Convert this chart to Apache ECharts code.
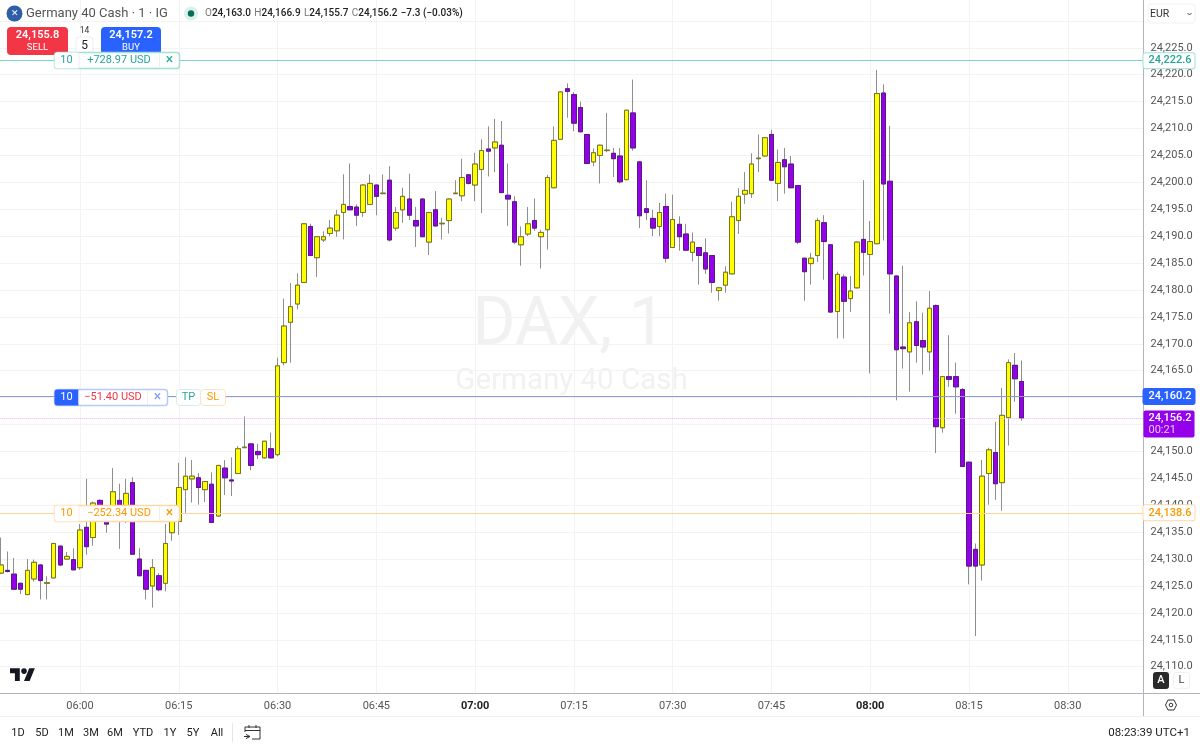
<!DOCTYPE html>
<html>
<head>
<meta charset="utf-8">
<title>Germany 40 Cash</title>
<style>
html, body { margin: 0; padding: 0; background: #fff; }
#chart { width: 1200px; height: 749px; }
</style>
<script src="https://cdn.jsdelivr.net/npm/echarts@6/dist/echarts.min.js"></script>
</head>
<body>
<div id="chart"></div>
<script>
var opens = [
	24127.4, 24127.9, 24127.2, 24125.5, 24123.4, 24126.3, 24128.9, 24125.5, 24126.5, 24132.4,
	24130.0, 24129.9, 24128.4, 24135.9, 24134.0, 24140.9, 24139.4, 24138.5, 24140.9, 24137.0,
	24144.2, 24130.0, 24127.9, 24125.0, 24126.9, 24125.5, 24134.9, 24137.0, 24142.9, 24144.9,
	24145.1, 24142.9, 24143.9, 24138.0, 24146.9, 24144.7, 24145.9, 24150.7, 24151.4, 24150.0,
	24148.8, 24150.5, 24149.4, 24166.5, 24174.0, 24177.4, 24181.4, 24191.8, 24186.0, 24189.3,
	24190.5, 24191.0, 24194.4, 24195.5, 24195.4, 24194.4, 24195.9, 24199.5, 24197.9, 24200.4,
	24191.5, 24194.9, 24196.9, 24192.9, 24196.9, 24188.9, 24194.9, 24192.3, 24192.9, 24197.9,
	24197.5, 24201.4, 24199.5, 24202.4, 24206.2, 24206.4, 24206.9, 24197.6, 24196.4, 24188.4,
	24190.4, 24192.9, 24189.9, 24191.2, 24199.0, 24208.0, 24217.4, 24216.3, 24213.9, 24208.9,
	24203.8, 24205.0, 24205.9, 24205.4, 24204.9, 24200.5, 24212.9, 24203.8, 24195.1, 24193.3,
	24191.8, 24195.5, 24187.9, 24192.2, 24190.4, 24187.0, 24187.9, 24186.9, 24186.4, 24179.9,
	24180.9, 24183.0, 24192.9, 24197.8, 24197.9, 24204.4, 24204.9, 24208.9, 24199.8, 24204.2,
	24203.4, 24199.4, 24185.9, 24184.9, 24186.4, 24192.5, 24188.4, 24176.0, 24182.4, 24178.4,
	24180.4, 24189.4, 24186.6, 24188.6, 24216.6, 24200.2, 24182.6, 24169.4, 24168.5, 24174.1,
	24170.6, 24168.5, 24177.1, 24154.4, 24163.9, 24163.9, 24161.5, 24148.0, 24131.8, 24128.9,
	24145.9, 24149.8, 24144.2, 24156.3, 24166.0, 24163.0
];
var closes = [
	24128.9, 24127.7, 24124.4, 24124.4, 24127.9, 24129.4, 24126.0, 24125.6, 24132.9, 24128.9,
	24130.5, 24128.0, 24135.4, 24132.3, 24140.4, 24138.8, 24136.5, 24142.5, 24137.3, 24142.2,
	24130.9, 24126.9, 24124.4, 24128.4, 24124.3, 24132.9, 24137.6, 24143.3, 24145.4, 24145.4,
	24143.3, 24144.4, 24136.8, 24147.4, 24145.1, 24144.5, 24150.5, 24150.8, 24147.4, 24149.4,
	24151.9, 24148.8, 24165.9, 24173.3, 24176.9, 24180.9, 24192.3, 24186.4, 24189.9, 24189.9,
	24191.5, 24193.9, 24195.9, 24194.9, 24193.9, 24199.5, 24199.8, 24197.4, 24198.0, 24189.3,
	24194.4, 24197.4, 24193.9, 24191.9, 24189.9, 24194.4, 24191.9, 24192.4, 24196.9, 24198.0,
	24200.9, 24199.8, 24203.4, 24205.9, 24205.8, 24207.5, 24198.1, 24196.9, 24188.9, 24189.9,
	24192.3, 24191.5, 24190.7, 24200.9, 24207.8, 24216.8, 24216.9, 24211.0, 24209.4, 24203.5,
	24205.5, 24206.9, 24206.0, 24204.4, 24200.1, 24213.4, 24206.4, 24193.8, 24194.4, 24191.5,
	24194.4, 24185.9, 24193.1, 24189.9, 24187.4, 24188.9, 24186.4, 24183.9, 24181.4, 24180.4,
	24183.3, 24193.6, 24197.4, 24198.5, 24203.4, 24204.5, 24208.3, 24200.4, 24203.7, 24202.9,
	24199.0, 24188.9, 24183.4, 24185.9, 24192.9, 24189.0, 24175.9, 24182.9, 24177.9, 24179.8,
	24188.9, 24187.0, 24189.0, 24216.5, 24199.7, 24183.0, 24168.9, 24169.1, 24173.9, 24169.7,
	24169.4, 24176.6, 24154.6, 24163.9, 24163.4, 24162.0, 24147.2, 24128.7, 24128.7, 24145.4,
	24150.3, 24144.0, 24156.7, 24166.5, 24163.5, 24156.2
];
var highs = [
	24134.0, 24131.4, 24130.2, 24125.6, 24130.0, 24129.9, 24129.1, 24126.8, 24133.0, 24132.5,
	24131.3, 24132.0, 24136.5, 24144.9, 24140.7, 24141.1, 24139.6, 24146.9, 24144.0, 24144.9,
	24145.2, 24132.0, 24128.0, 24130.0, 24127.4, 24136.5, 24137.9, 24147.9, 24148.9, 24148.4,
	24146.0, 24144.5, 24146.1, 24147.5, 24148.4, 24148.9, 24151.0, 24156.5, 24151.5, 24151.4,
	24151.9, 24153.5, 24167.4, 24178.4, 24181.3, 24183.1, 24192.4, 24192.3, 24190.0, 24190.9,
	24193.0, 24194.9, 24201.5, 24203.5, 24195.9, 24199.6, 24201.5, 24199.6, 24201.5, 24203.0,
	24195.4, 24199.0, 24201.6, 24195.4, 24197.0, 24194.5, 24198.4, 24193.4, 24197.0, 24200.4,
	24204.4, 24201.5, 24205.5, 24208.0, 24210.4, 24211.8, 24211.4, 24203.5, 24197.4, 24191.8,
	24195.4, 24197.0, 24191.2, 24201.4, 24210.4, 24216.9, 24218.4, 24216.8, 24215.0, 24209.0,
	24206.3, 24207.0, 24212.9, 24206.4, 24206.4, 24213.5, 24219.1, 24203.9, 24200.4, 24194.9,
	24196.2, 24197.9, 24197.7, 24193.7, 24192.3, 24190.7, 24188.0, 24189.6, 24186.5, 24180.6,
	24184.4, 24196.4, 24198.9, 24201.9, 24205.4, 24208.9, 24208.4, 24209.8, 24206.1, 24206.4,
	24204.9, 24199.5, 24186.0, 24186.9, 24193.4, 24193.9, 24188.5, 24183.4, 24182.9, 24182.6,
	24189.0, 24200.4, 24192.8, 24220.9, 24218.2, 24210.5, 24182.7, 24184.5, 24175.9, 24177.9,
	24175.8, 24179.8, 24177.3, 24164.0, 24171.6, 24166.5, 24161.8, 24148.1, 24132.9, 24148.4,
	24150.7, 24155.5, 24161.8, 24167.1, 24168.3, 24166.9
];
var lows = [
	24127.2, 24127.5, 24124.3, 24123.5, 24123.3, 24125.8, 24122.5, 24122.5, 24126.4, 24128.7,
	24129.9, 24127.9, 24128.0, 24130.8, 24132.5, 24138.6, 24134.9, 24138.2, 24131.9, 24136.7,
	24130.8, 24126.8, 24122.5, 24121.0, 24124.0, 24124.0, 24133.4, 24134.5, 24138.6, 24140.5,
	24140.1, 24140.6, 24136.7, 24137.9, 24141.9, 24141.7, 24145.8, 24150.7, 24146.5, 24148.6,
	24148.7, 24148.7, 24149.1, 24166.0, 24166.5, 24176.4, 24181.3, 24186.4, 24182.4, 24188.9,
	24190.0, 24189.9, 24189.4, 24194.9, 24191.9, 24193.6, 24195.8, 24193.9, 24197.8, 24189.0,
	24191.0, 24192.5, 24193.0, 24188.0, 24189.8, 24186.5, 24191.8, 24189.4, 24190.5, 24197.8,
	24196.5, 24199.6, 24196.5, 24194.3, 24201.1, 24201.9, 24198.0, 24191.9, 24188.5, 24184.5,
	24190.0, 24191.0, 24184.0, 24187.5, 24198.9, 24207.9, 24212.0, 24209.5, 24209.3, 24203.4,
	24203.0, 24199.8, 24205.6, 24201.0, 24199.8, 24200.4, 24205.9, 24191.5, 24193.0, 24190.0,
	24190.0, 24185.1, 24187.8, 24187.3, 24187.3, 24185.3, 24181.0, 24183.0, 24179.5, 24178.0,
	24179.5, 24182.9, 24190.4, 24196.0, 24197.1, 24201.9, 24204.8, 24200.3, 24196.5, 24197.9,
	24198.9, 24188.5, 24178.0, 24181.0, 24185.2, 24181.9, 24175.8, 24171.0, 24171.0, 24175.9,
	24180.3, 24182.7, 24164.5, 24188.5, 24189.2, 24175.6, 24159.5, 24165.4, 24161.1, 24166.5,
	24164.3, 24165.0, 24149.7, 24153.5, 24162.0, 24157.0, 24147.1, 24125.3, 24115.7, 24126.0,
	24140.1, 24141.0, 24139.0, 24151.1, 24159.2, 24155.7
];

// one slot per minute, 05:48 up to the end of the empty space on the right
var startMinute = 5 * 60 + 48;
var slotCount = 174;
var boldHours = ['07:00', '08:00'];
var rangeButtons = ['1D', '5D', '1M', '3M', '6M', 'YTD', '1Y', '5Y', 'All'];
var rangeX = [18, 42, 66, 91, 115, 143, 170, 193, 217];

var takeProfit = 24222.6, position = 24160.2, lastPrice = 24156.2, stopLoss = 24138.6;

var FONT = 'Roboto, sans-serif';
var categories = [];
for (var i = 0; i < slotCount; i++) {
	var m = startMinute + i;
	categories.push(('0' + Math.floor(m / 60)).slice(-2) + ':' + ('0' + (m % 60)).slice(-2));
}

var fullData = [], bodyData = [];
for (var k = 0; k < opens.length; k++) {
	fullData.push([opens[k], closes[k], lows[k], highs[k]]);
	bodyData.push([opens[k], closes[k], Math.min(opens[k], closes[k]), Math.max(opens[k], closes[k])]);
}

function fmtPrice(v) {
	var s = v.toFixed(1);
	return s.slice(0, 2) + ',' + s.slice(2);
}

function quarterTick(index) {
	return (startMinute + index) % 15 === 0;
}

function priceLine(value, color, type, label) {
	return {
		yAxis: value,
		lineStyle: { color: color, width: 1, type: type },
		label: label
	};
}

function priceTag(text, color, bg, border) {
	return {
		show: true,
		position: 'end',
		distance: 0,
		formatter: text,
		fontFamily: FONT,
		fontSize: 11,
		fontWeight: 500,
		color: color,
		backgroundColor: bg,
		borderColor: border,
		borderWidth: 1,
		borderRadius: 2,
		padding: [2, 3, 2, 5]
	};
}

// trade chip on the left: quantity | amount | close cross
function chip(x, y, w, color, boxColor, qtyFill, qtyColor, amount, amountColor) {
	return {
		type: 'group',
		x: x,
		y: y,
		z: 50,
		children: [
			{ type: 'rect', shape: { x: 0, y: 0, width: w, height: 16, r: 3 }, style: { fill: '#fff', stroke: boxColor, lineWidth: 1.5 }, z: 50 },
			{ type: 'rect', shape: { x: 0, y: 0, width: 24, height: 16, r: [3, 0, 0, 3] }, style: { fill: qtyFill }, z: 50 },
			{ type: 'line', shape: { x1: 24.5, y1: 1, x2: 24.5, y2: 15 }, style: { stroke: '#eeeeee', lineWidth: 1 }, z: 50 },
			{ type: 'line', shape: { x1: w - 20, y1: 1, x2: w - 20, y2: 15 }, style: { stroke: '#eeeeee', lineWidth: 1 }, z: 50 },
			{ type: 'text', x: 12, y: 8, style: { text: '10', fill: qtyColor, font: '11px ' + FONT, align: 'center', verticalAlign: 'middle' }, z: 51 },
			{ type: 'text', x: (w - 24 - 20) / 2 + 24, y: 8, style: { text: amount, fill: amountColor, font: '11px ' + FONT, align: 'center', verticalAlign: 'middle' }, z: 51 },
			{ type: 'text', x: w - 10, y: 8, style: { text: '\u00d7', fill: color, font: '14px ' + FONT, align: 'center', verticalAlign: 'middle' }, z: 51 }
		]
	};
}

function smallBox(x, y, w, text, color, boxColor) {
	return {
		type: 'group',
		x: x,
		y: y,
		z: 50,
		children: [
			{ type: 'rect', shape: { x: 0, y: 0, width: w, height: 16, r: 3 }, style: { fill: '#fff', stroke: boxColor, lineWidth: 1 }, z: 50 },
			{ type: 'text', x: w / 2, y: 8, style: { text: text, fill: color, font: '11px ' + FONT, align: 'center', verticalAlign: 'middle' }, z: 51 }
		]
	};
}

function tradeButton(x, w, fill, price, side) {
	return {
		type: 'group',
		x: x,
		y: 27,
		z: 50,
		children: [
			{ type: 'rect', shape: { x: 0, y: 0, width: w, height: 28, r: 4 }, style: { fill: fill }, z: 50 },
			{ type: 'text', x: w / 2, y: 8.5, style: { text: price, fill: '#fff', font: '600 11px ' + FONT, align: 'center', verticalAlign: 'middle' }, z: 51 },
			{ type: 'text', x: w / 2, y: 20.5, style: { text: side, fill: '#fff', font: '9.5px ' + FONT, align: 'center', verticalAlign: 'middle' }, z: 51 }
		]
	};
}

function uiText(x, y, text, fill, size, align, weight) {
	return {
		type: 'text',
		x: x,
		y: y,
		z: 50,
		style: { text: text, fill: fill, font: (weight || 400) + ' ' + size + 'px ' + FONT, align: align || 'left', verticalAlign: 'middle' }
	};
}

function uiLine(x1, y1, x2, y2, color) {
	return { type: 'line', z: 40, shape: { x1: x1, y1: y1, x2: x2, y2: y2 }, style: { stroke: color, lineWidth: 1 } };
}

var graphics = [
	// watermark
	{ type: 'text', x: 569, y: 327, z: -1, style: { text: 'DAX, 1', fill: '#f1f1f1', font: '66px ' + FONT, align: 'center', verticalAlign: 'middle' } },
	{ type: 'text', x: 571.5, y: 382, z: -1, style: { text: 'Germany 40 Cash', fill: '#f1f1f1', font: '29.5px ' + FONT, align: 'center', verticalAlign: 'middle' } },

	// header
	{ type: 'circle', z: 50, shape: { cx: 14.5, cy: 13.5, r: 8 }, style: { fill: '#2e5ea6' } },
	uiText(14.5, 13.5, '\u2715', '#fff', 9, 'center'),
	uiText(26, 13.5, 'Germany 40 Cash \u00b7 1 \u00b7 IG', '#555', 13),
	{ type: 'circle', z: 50, shape: { cx: 191, cy: 13.5, r: 7 }, style: { fill: '#dcf0ec' } },
	{ type: 'circle', z: 50, shape: { cx: 191, cy: 13.5, r: 3.2 }, style: { fill: '#066b57' } },
	{
		type: 'text',
		x: 205,
		y: 13.5,
		z: 50,
		style: {
			rich: {
				g: { fill: '#777', font: '10px ' + FONT },
				v: { fill: '#222', font: '500 10px ' + FONT }
			},
			text: '{g|O}{v|24,163.0} {g|H}{v|24,166.9} {g|L}{v|24,155.7} {g|C}{v|24,156.2} {v|\u22127.3 (\u22120.03%)}',
			verticalAlign: 'middle'
		}
	},

	// sell / buy
	tradeButton(7, 61, '#f23645', '24,155.8', 'SELL'),
	tradeButton(101, 60, '#2962ff', '24,157.2', 'BUY'),
	uiText(84.5, 30.5, '14', '#333', 8.5, 'center'),
	{ type: 'rect', z: 50, shape: { x: 76, y: 37, width: 17, height: 18, r: 3 }, style: { fill: '#fff', stroke: '#eeeeee' } },
	uiText(84.5, 46, '5', '#222', 12, 'center'),

	// trade chips
	chip(54.5, 52.5, 125, '#26a69a', '#a5ded3', '#fff', '#26a69a', '+728.97 USD', '#26a69a'),
	chip(54.5, 389.5, 113, '#7f9cf5', '#b9c9f7', '#2962ff', '#fff', '\u221251.40 USD', '#f23645'),
	smallBox(176.5, 389.5, 24, 'TP', '#26a69a', '#d3efe9'),
	smallBox(200.5, 389.5, 25, 'SL', '#ff9800', '#fde3c0'),
	chip(54.5, 505.5, 125, '#ff9800', '#fdd7a5', '#fff', '#ff9800', '\u2212252.34 USD', '#ff9800'),

	// price scale extras
	{ type: 'rect', z: 50, shape: { x: 1148, y: 4, width: 47, height: 19, r: 3 }, style: { fill: '#fff', stroke: '#f0f0f0' } },
	uiText(1150, 14, 'EUR', '#333', 10.5),
	{ type: 'polyline', z: 51, shape: { points: [[1187.5, 13], [1189.5, 15], [1191.5, 13]] }, style: { stroke: '#444', lineWidth: 1, fill: null } },
	{ type: 'rect', z: 50, shape: { x: 1153, y: 672, width: 16, height: 17, r: 3 }, style: { fill: '#2a2a2a' } },
	uiText(1161, 680.5, 'A', '#fff', 11, 'center', 500),
	{ type: 'rect', z: 50, shape: { x: 1173.5, y: 672.5, width: 16, height: 16, r: 3 }, style: { fill: '#fff', stroke: '#f0f0f0' } },
	uiText(1181.5, 680.5, 'L', '#444', 11, 'center'),
	{ type: 'polygon', z: 50, shape: { points: [[1165.5, 705], [1168, 700], [1174, 700], [1176.5, 705], [1174, 710], [1168, 710]] }, style: { fill: null, stroke: '#333', lineWidth: 1 } },
	{ type: 'circle', z: 50, shape: { cx: 1171, cy: 705, r: 1.8 }, style: { fill: null, stroke: '#333', lineWidth: 1 } },

	// frame lines
	uiLine(1143.5, 693, 1143.5, 716, '#b2b5be'),
	uiLine(1143.5, 693.5, 1200, 693.5, '#b2b5be'),
	uiLine(0, 716.5, 1200, 716.5, '#f0f0f0'),
	uiLine(232.5, 723, 232.5, 742, '#e6e6e6'),

	// logo
	{
		type: 'group',
		x: 10,
		y: 665.5,
		scaleX: 0.7,
		scaleY: 0.7,
		z: 50,
		children: [
			{ type: 'polygon', z: 50, shape: { points: [[0, 4], [14, 4], [14, 22], [7, 22], [7, 11], [0, 11]] }, style: { fill: '#131722' } },
			{ type: 'circle', z: 50, shape: { cx: 20, cy: 8, r: 4 }, style: { fill: '#131722' } },
			{ type: 'polygon', z: 50, shape: { points: [[27.5, 4], [35.5, 4], [28, 22], [20, 22]] }, style: { fill: '#131722' } }
		]
	},

	// calendar icon
	{ type: 'polyline', z: 50, shape: { points: [[245, 732], [245, 727], [260, 727], [260, 739], [252, 739]] }, style: { stroke: '#333', lineWidth: 1, fill: null } },
	uiLine(245, 730.5, 260, 730.5, '#333'),
	uiLine(249, 725, 249, 728, '#333'),
	uiLine(256, 725, 256, 728, '#333'),
	{ type: 'polyline', z: 50, shape: { points: [[246, 734.5], [250, 736.5], [246, 738.5]] }, style: { stroke: '#333', lineWidth: 1, fill: null } },
	uiLine(244, 736.5, 250, 736.5, '#333'),

	uiText(1190, 733, '08:23:39 UTC+1', '#222', 11.5, 'right')
];
for (var b = 0; b < rangeButtons.length; b++) {
	graphics.push(uiText(rangeX[b], 733, rangeButtons[b], '#222', 11, 'center'));
}

var chart = echarts.init(document.getElementById('chart'));
chart.setOption({
	animation: false,
	backgroundColor: '#fff',
	grid: { left: -2.3, top: -6, width: 1145.8, height: 699.6, containLabel: false, outerBoundsMode: 'none' },
	xAxis: {
		type: 'category',
		data: categories,
		axisLine: { show: true, lineStyle: { color: '#b2b5be', width: 1 } },
		axisTick: { show: false },
		splitLine: {
			show: true,
			alignWithLabel: true,
			interval: function (index) { return quarterTick(index); },
			lineStyle: { color: '#f3f3f3', width: 1 }
		},
		axisLabel: {
			interval: function (index) { return quarterTick(index); },
			margin: 7,
			fontFamily: FONT,
			fontSize: 11,
			color: '#555',
			formatter: function (value) {
				return boldHours.indexOf(value) >= 0 ? '{b|' + value + '}' : value;
			},
			rich: { b: { fontFamily: FONT, fontSize: 11, fontWeight: 700, color: '#222' } }
		}
	},
	yAxis: {
		type: 'value',
		position: 'right',
		min: 24105,
		max: 24235,
		interval: 5,
		scale: true,
		axisLine: { show: true, lineStyle: { color: '#b2b5be', width: 1 } },
		axisTick: { show: false },
		splitLine: { show: true, lineStyle: { color: '#f3f3f3', width: 1 } },
		axisLabel: {
			margin: 7,
			fontFamily: FONT,
			fontSize: 11,
			color: '#555',
			formatter: function (value) {
				if (value > 24225 || value < 24110) {
					return '';
				}
				return fmtPrice(value);
			}
		}
	},
	series: [{
		// grey wicks underneath
		type: 'candlestick',
		name: 'wicks',
		data: fullData,
		barWidth: 5,
		z: 3,
		itemStyle: {
			color: '#ffff00',
			color0: '#9400ea',
			borderColor: '#8e8e8e',
			borderColor0: '#8e8e8e',
			borderColorDoji: '#8e8e8e',
			borderWidth: 1
		}
	}, {
		// outlined bodies on top
		type: 'candlestick',
		name: 'Germany 40 Cash',
		data: bodyData,
		barWidth: 5,
		z: 4,
		itemStyle: {
			color: '#ffff00',
			color0: '#9400ea',
			borderColor: '#77751f',
			borderColor0: '#561a80',
			borderColorDoji: '#777777',
			borderWidth: 1
		},
		markLine: {
			silent: true,
			symbol: 'none',
			animation: false,
			data: [
				priceLine(takeProfit, '#7fd4c4', 'solid', priceTag(fmtPrice(takeProfit), '#26a69a', '#fff', '#a5ded3')),
				priceLine(position, '#8a9bd8', 'solid', priceTag(fmtPrice(position), '#fff', '#2962ff', '#2962ff')),
				priceLine(lastPrice, '#e3b4f7', 'dotted', {
					show: true,
					position: 'end',
					distance: 0,
					offset: [0, 6],
					formatter: '{a|' + fmtPrice(lastPrice) + '}\n{b|00:21}',
					backgroundColor: '#9400ea',
					borderRadius: 2,
					padding: [1, 3, 1, 5],
					rich: {
						a: { fontFamily: FONT, fontSize: 11, fontWeight: 500, color: '#fff', lineHeight: 13 },
						b: { fontFamily: FONT, fontSize: 11, color: '#e6c6fa', lineHeight: 12 }
					}
				}),
				priceLine(stopLoss, '#fdd49a', 'solid', priceTag(fmtPrice(stopLoss), '#ff9800', '#fff', '#fdd7a5'))
			]
		}
	}],
	graphic: { elements: graphics }
});
</script>
</body>
</html>
